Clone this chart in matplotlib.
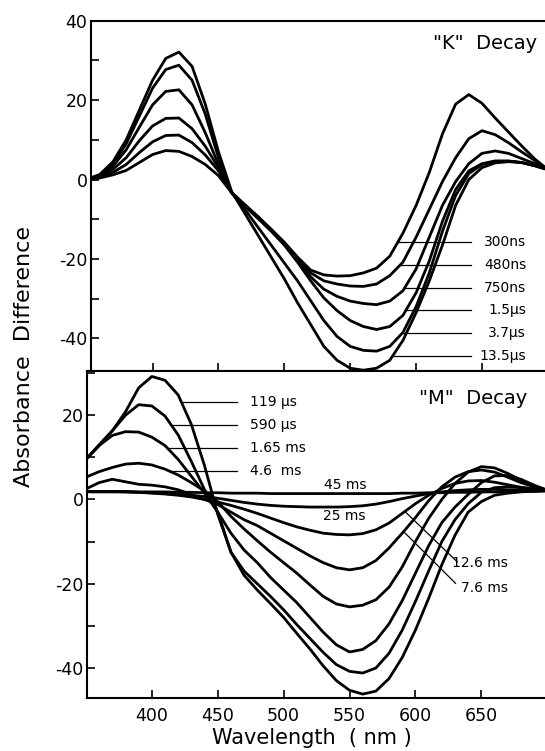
import numpy as np
import matplotlib
matplotlib.use('Agg')
import matplotlib.pyplot as plt
from matplotlib.ticker import MultipleLocator

plt.rcParams['font.family'] = ['DejaVu Sans']
plt.rcParams['axes.unicode_minus'] = False

wavelength = [350, 360, 370, 380, 390, 400, 410, 420, 430, 440, 450, 460,
              470, 480, 490, 500, 510, 520, 530, 540, 550, 560, 570, 580,
              590, 600, 610, 620, 630, 640, 650, 660, 670, 680, 690, 700]

# "K" decay spectra
k_labels = ['300ns', '480ns', '750ns', '1.5\u00b5s', '3.7\u00b5s', '13.5\u00b5s']
k_300ns = [0, 0.4, 1.2, 2.3, 4.3, 6.3, 7.3, 7.1, 5.8, 3.8, 1.0, -3.3,
           -6.3, -9.3, -12.5, -15.8, -19.5, -22.8, -24.0, -24.3, -24.2, -23.5, -22.3, -19.3,
           -13.5, -6.5, 1.8, 11.5, 19, 21.4, 19.2, 15.5, 12, 8.5, 5.2, 2.5]
k_480ns = [0, 0.6, 1.8, 3.8, 6.8, 9.5, 11.1, 11.2, 9.3, 6.2, 2.2, -3.2,
           -6.4, -9.4, -12.6, -15.9, -19.8, -23.5, -25.5, -26.3, -26.8, -26.9, -26.3, -24.2,
           -20.8, -14.5, -7.5, -0.5, 5.5, 10.3, 12.3, 11.3, 9.3, 7, 4.8, 2.5]
k_750ns = [0, 0.8, 2.6, 5.5, 9.8, 13.5, 15.4, 15.5, 12.8, 8.4, 3.0, -3.2,
           -6.5, -9.6, -12.8, -16.2, -20.3, -24.5, -27.6, -29.4, -30.6, -31.2, -31.5, -30.6,
           -28, -22.5, -14.5, -6.5, -0.5, 4, 6.6, 7.2, 6.6, 5.3, 4, 2.5]
k_1p5us = [0, 1.0, 3.4, 7.5, 13.2, 18.8, 22.2, 22.6, 18.8, 11.8, 3.8, -3.4,
           -6.7, -9.8, -13, -16.5, -20.8, -25.5, -29.8, -33, -35.5, -37, -37.75, -37,
           -34.2, -28.5, -20.5, -10.5, -2.5, 2.2, 4, 4.7, 4.7, 4.3, 3.5, 2.5]
k_3p7us = [0, 1.2, 4, 9, 16, 23, 27.7, 28.8, 25, 16.5, 5.5, -3.3,
           -7.5, -12, -16.5, -21, -25.5, -30.5, -35.5, -39.5, -42, -43, -43.2, -42,
           -38.5, -32, -23.5, -13, -4, 1.5, 3.8, 4.5, 4.6, 4.3, 3.5, 2.5]
k_13p5us = [0, 1.3, 4.5, 10, 17.5, 25, 30.5, 32.1, 28.5, 19, 7, -3,
            -8.5, -14, -19.5, -25, -31, -36.5, -42, -45.5, -47.5, -48, -47.5, -45.5,
            -40.5, -33.5, -25.5, -16.5, -6.5, 0, 3, 4.2, 4.5, 4.3, 3.5, 2.5]
k_label_y = [-15.7, -21.5, -27.3, -32.9, -38.7, -44.5]

# "M" decay spectra
m_labels = ['119 \u00b5s', '590 \u00b5s', '1.65 ms', '4.6  ms', '7.6 ms', '12.6 ms', '25 ms', '45 ms']
m_119us = [9.5, 13, 16.3, 20.8, 26.5, 29.2, 28.3, 24.8, 17.8, 8, -3.5, -12.5,
           -18, -21.5, -24.7, -28, -31.8, -35.5, -39.5, -43, -45.3, -46.2, -45.5, -42.5,
           -37.5, -31, -23.5, -15.5, -8.5, -3, -0.5, 1, 1.5, 1.8, 2, 2.2]
m_590us = [9.5, 12.8, 16.3, 20, 22.5, 22.2, 19.8, 15.3, 9, 2.3, -3, -12.5,
           -17, -20, -23, -26.2, -29.7, -33, -36.3, -39.2, -40.8, -41.2, -40, -36.5,
           -31, -24.2, -17, -10, -4.8, -1, 1.7, 2.8, 3, 2.8, 2.5, 2.2]
m_1p65ms = [9.5, 12.8, 15.2, 16.1, 16.0, 14.8, 12.8, 9.5, 5.5, 1.5, -3, -8,
            -12, -15, -18.5, -21.5, -24.5, -28, -31.5, -34.5, -36.2, -35.6, -33.5, -29.5,
            -24, -17.5, -11, -5.5, -1.8, 1.2, 4, 5.6, 5.7, 4.8, 3.4, 2.2]
m_4p6ms = [5.3, 6.6, 7.6, 8.4, 8.6, 8.2, 7.2, 5.8, 4, 2, -0.5, -4,
           -7, -9.8, -12.5, -15, -17.5, -20.3, -23, -24.8, -25.5, -25.1, -23.8, -20.8,
           -16, -10, -4.5, 0, 3.8, 6.5, 7.8, 7.5, 6.2, 4.6, 3.2, 2.2]
m_7p6ms = [2.5, 4, 4.8, 4.2, 3.6, 3.4, 3, 2.3, 1.2, 0, -1.2, -3,
           -4.8, -6.2, -8, -9.8, -11.6, -13.4, -15, -16.2, -16.7, -16.2, -14.5, -11.5,
           -8, -4.3, -0.3, 3, 5.3, 6.6, 7, 6.5, 5.3, 4, 3, 2.2]
m_12p6ms = [1.9, 1.9, 1.9, 1.8, 1.7, 1.5, 1.3, 1, 0.6, 0, -0.6, -1.4,
            -2.3, -3.3, -4.4, -5.5, -6.5, -7.3, -8, -8.3, -8.4, -8.1, -7.2, -5.6,
            -3.3, -1, 1, 2.6, 3.8, 4.4, 4.5, 4.1, 3.5, 2.9, 2.5, 2.2]
m_25ms = [1.8, 1.8, 1.8, 1.8, 1.7, 1.6, 1.4, 1.2, 1, 0.7, 0.3, -0.2,
          -0.7, -1.1, -1.4, -1.6, -1.7, -1.8, -1.8, -1.8, -1.7, -1.5, -1.1, -0.5,
          0.2, 0.8, 1.4, 1.8, 2.1, 2.3, 2.4, 2.4, 2.3, 2.2, 2.1, 2.1]
m_45ms = [1.9, 1.9, 1.9, 1.9, 1.8, 1.8, 1.8, 1.7, 1.7, 1.6, 1.6, 1.5,
          1.5, 1.5, 1.4, 1.4, 1.4, 1.4, 1.4, 1.4, 1.4, 1.4, 1.4, 1.4,
          1.5, 1.5, 1.6, 1.6, 1.7, 1.7, 1.8, 1.8, 1.8, 1.9, 1.9, 2.0]
m_label_y = [23.1, 17.7, 12.3, 6.8]

wl = np.array(wavelength)
k_curves = [k_300ns, k_480ns, k_750ns, k_1p5us, k_3p7us, k_13p5us]
m_curves = [m_119us, m_590us, m_1p65ms, m_4p6ms, m_7p6ms, m_12p6ms, m_25ms, m_45ms]

fig = plt.figure(figsize=(5.45, 7.51), dpi=100)
ax1 = fig.add_axes([0.16697, 0.50599, 0.83303, 0.46645])
ax2 = fig.add_axes([0.15963, 0.07017, 0.84037, 0.43582])

for ax in (ax1, ax2):
	ax.spines['right'].set_visible(False)
	for s in ('left', 'top', 'bottom'):
		ax.spines[s].set_linewidth(1.5)
	ax.set_xticks([400, 450, 500, 550, 600, 650])
	ax.yaxis.set_major_locator(MultipleLocator(20))
	ax.yaxis.set_minor_locator(MultipleLocator(10))
	ax.tick_params(which='both', direction='in', length=6, width=1.2, labelsize=12.5)
	ax.tick_params(axis='y', pad=2.5)
	ax.tick_params(axis='x', pad=6)

########################################################################
# top panel
for v in k_curves:
	ax1.plot(wl, v, color='black', lw=2.0, solid_joinstyle='round')
ax1.set_xlim(353.3, 697.8)
ax1.set_ylim(-48.2, 40)
ax1.set_yticks([-40, -20, 0, 20, 40])
ax1.tick_params(axis='x', labelbottom=False)
rise = (wl >= 570) & (wl <= 640)
for v, lab, y in zip(k_curves, k_labels, k_label_y):
	x0 = np.interp(y, np.array(v)[rise], wl[rise])
	ax1.plot([x0, 642], [y, y], color='black', lw=0.9)
	ax1.text(683.5, y, lab, fontsize=10, ha='right', va='center')
ax1.text(0.982, 0.936, '"K"  Decay', transform=ax1.transAxes, fontsize=14,
	ha='right', va='center')

########################################################################
# bottom panel
for v in m_curves:
	ax2.plot(wl, v, color='black', lw=2.0, solid_joinstyle='round')
ax2.set_xlim(350.8, 698.3)
ax2.set_ylim(-47.2, 30.5)
ax2.set_yticks([-40, -20, 0, 20])
fall = (wl >= 400) & (wl <= 450)
for v, lab, y in zip(m_curves[:4], m_labels[:4], m_label_y):
	x0 = np.interp(y, np.array(v)[fall][::-1], wl[fall][::-1])
	ax2.plot([x0, 464.5], [y, y], color='black', lw=0.9)
	ax2.text(474.7, y, lab, fontsize=10, ha='left', va='center')

# diagonal leaders for 12.6 ms and 7.6 ms
y126 = np.interp(592, wl, m_12p6ms)
y76 = np.interp(591, wl, m_7p6ms)
ax2.plot([592, 631.7], [y126, -14.8], color='black', lw=0.9)
ax2.plot([591, 630.4], [y76, -19.9], color='black', lw=0.9)
ax2.text(670, -15.0, m_labels[5], fontsize=10, ha='right', va='center')
ax2.text(670, -21.1, m_labels[4], fontsize=10, ha='right', va='center')
ax2.text(546.5, 3.4, m_labels[7], fontsize=10, ha='center', va='center')
ax2.text(546, -3.9, m_labels[6], fontsize=10, ha='center', va='center')
ax2.text(0.961, 0.917, '"M"  Decay', transform=ax2.transAxes, fontsize=14,
	ha='right', va='center')

fig.text(0.044, 0.5253, 'Absorbance  Difference', rotation=90, fontsize=16,
	ha='center', va='center')
fig.text(0.5716, 0.0173, 'Wavelength  ( nm )', fontsize=15, ha='center', va='center')

fig.savefig('out.png', dpi=100)
